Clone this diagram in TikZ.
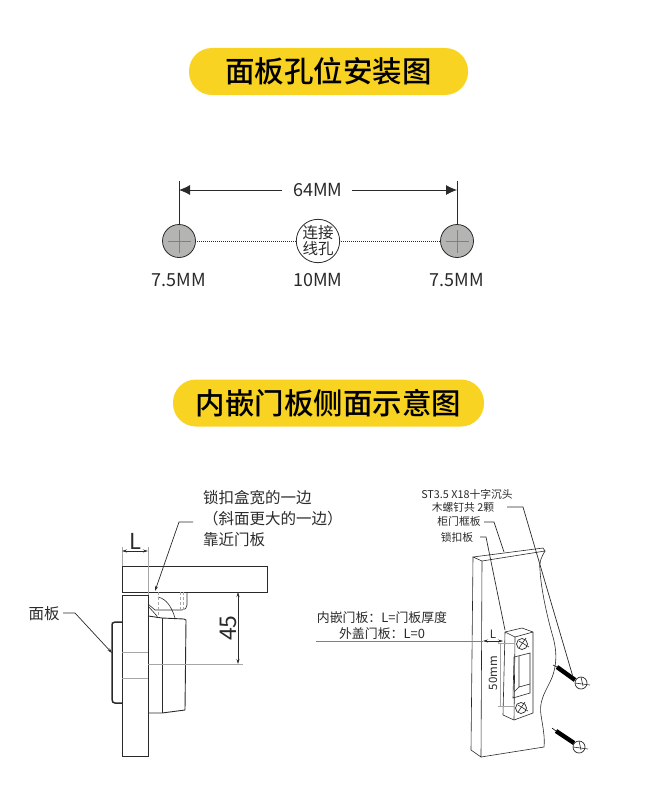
\documentclass[tikz,border=0pt]{standalone}
\usepackage{fontspec}
\setmainfont{Noto Sans CJK SC}
\newfontfamily\titlefont{Noto Sans CJK SC Medium}
\usetikzlibrary{calc,arrows.meta}
\definecolor{pillyellow}{HTML}{F9D322}
\definecolor{holegrey}{HTML}{B4B4B2}
\definecolor{inkdark}{HTML}{2A2A2A}
\tikzset{
  pill/.style={fill=pillyellow, rounded corners=23pt, minimum height=47pt, font=\titlefont\fontsize{29.5}{30}\selectfont, text=black},
  holelabel/.style={font=\fontsize{18}{18}\selectfont, text=inkdark},
  note/.style={font=\fontsize{15.5}{21}\selectfont, text=inkdark},
  smallnote/.style={font=\fontsize{10.8}{12}\selectfont, text=inkdark},
  part/.style={draw=inkdark, line width=0.9pt},
  thinpart/.style={draw=inkdark, line width=0.6pt},
  hairline/.style={draw=gray!70, line width=0.5pt},
  leader/.style={draw=inkdark, line width=0.7pt},
  dimarrow/.style={draw=inkdark, line width=0.7pt, {Stealth[length=5pt,width=3pt]}-{Stealth[length=5pt,width=3pt]}},
  screwhead/.style={draw=inkdark, fill=white, line width=0.7pt, circle, minimum size=12pt},
  screwhole/.style={draw=inkdark, line width=0.7pt, circle, minimum size=11pt}
}
\begin{document}
\begin{tikzpicture}[x=1pt,y=-1pt,inner sep=0pt,outer sep=0pt]
    \useasboundingbox (0,0) rectangle (657,800);

    % titles
    \node[pill, minimum width=279pt] (title_top) at (328.5,71.5) {面板孔位安装图};
    \node[pill, minimum width=311pt] (title_side) at (328.5,403) {内嵌门板侧面示意图};

    % holes
    \draw[densely dotted, line width=1pt, draw=inkdark] (179,241) -- (457,241);
    \node[draw=inkdark, fill=holegrey, circle, line width=0.8pt, minimum size=33pt] (hole_left) at (179,241) {};
    \node[draw=inkdark, fill=holegrey, circle, line width=0.8pt, minimum size=33pt] (hole_right) at (457,241) {};
    \node[draw=inkdark, fill=white, circle, line width=0.8pt, minimum size=43pt,
          align=center, font=\fontsize{15.5}{16}\selectfont, text=inkdark] (hole_mid) at (318,241) {连接\\线孔};
    \foreach \hole in {hole_left,hole_right}{
      \draw[gray, line width=0.7pt] ($(\hole.center)+(-11.5pt,0)$) -- ($(\hole.center)+(11.5pt,0)$);
      \draw[gray, line width=0.7pt] ($(\hole.center)+(0,-11.5pt)$) -- ($(\hole.center)+(0,11.5pt)$);
    }

    % 64 dimension
    \node[holelabel] (dim_64) at (318,190) {64MM};
    \coordinate (ext_left) at (179,181);
    \coordinate (ext_right) at (457,181);
    \coordinate (arrow_left) at (179,190);
    \coordinate (arrow_right) at (457,190);
    \coordinate (gap_left) at (282,190);
    \coordinate (gap_right) at (352,190);
    \draw[line width=0.8pt, draw=inkdark] (ext_left) -- (hole_left.north);
    \draw[line width=0.8pt, draw=inkdark] (ext_right) -- (hole_right.north);
    \draw[line width=0.8pt, draw=inkdark, -{Latex[length=11pt,width=10pt]}] (gap_left) -- (arrow_left);
    \draw[line width=0.8pt, draw=inkdark, -{Latex[length=11pt,width=10pt]}] (gap_right) -- (arrow_right);

    \node[holelabel] (size_left) at (179,280) {7.5MM};
    \node[holelabel] (size_mid) at (318,280) {10MM};
    \node[holelabel] (size_right) at (457,280) {7.5MM};

    % side view, door and panel
    \draw[part] (122,566) rectangle (267,592);
    \draw[part] (122,595) rectangle (148,756);
    \draw[part, line width=1.5pt] (122,622) -- (115,622) .. controls (112,622) and (112,624) .. (112,626)
        -- (112,699) .. controls (112,702) and (113,703) .. (115,703) -- (122,703);
    \draw[hairline] (122,652) -- (148,652);
    \draw[hairline] (122,678) -- (148,678);

    % side view, lock body
    \draw[part] (148,616) -- (162,618) -- (184,619) -- (186,620) -- (185,710) -- (162,713) -- (148,713);
    \draw[thinpart] (162,618) -- (162,713);
    \draw[thinpart] (187,592) -- (187,605) .. controls (187,608) and (185,610) .. (182,610) -- (155,610) -- (148,604);
    \draw[thinpart] (148,606) -- (157,616) -- (157,618);
    \draw[thinpart] (148,595) -- (148,606);
    \draw[thinpart] (158,597) .. controls (167,599) and (172,608) .. (175,618);
    \draw[hairline, densely dashed] (158,592) -- (158,617);
    \draw[hairline, densely dashed] (180,592) -- (180,610);
    \draw[hairline, densely dashed] (183,592) -- (183,610);

    % side view, L dimension
    \node[font=\fontsize{22}{22}\selectfont, text=inkdark] (dim_l) at (135,541) {L};
    \coordinate (ext_l_a) at (122,547);
    \coordinate (ext_l_b) at (148,547);
    \coordinate (ext_l_a_end) at (122,566);
    \coordinate (ext_l_b_end) at (148,595);
    \draw[hairline] (ext_l_a) -- (ext_l_a_end);
    \draw[hairline] (ext_l_b) -- (ext_l_b_end);
    \coordinate (arrow_l_a) at (122,551);
    \coordinate (arrow_l_b) at (148,551);
    \draw[dimarrow] (arrow_l_a) -- (arrow_l_b);

    % side view, 45 dimension
    \node[font=\fontsize{23}{23}\selectfont, text=inkdark, rotate=90] (dim_45) at (228,628) {45};
    \coordinate (arrow_45_a) at (238,592);
    \coordinate (arrow_45_b) at (238,664);
    \draw[dimarrow] (arrow_45_a) -- (arrow_45_b);
    \coordinate (ext_45_a) at (148,664);
    \coordinate (ext_45_b) at (243,664);
    \draw[hairline] (ext_45_a) -- (ext_45_b);

    % side view, labels
    \node[note, anchor=north west, align=left] (note_edge) at (203,490) {锁扣盒宽的一边\\（斜面更大的一边）\\靠近门板};
    \coordinate (note_edge_a) at (193,522);
    \coordinate (note_edge_b) at (179,522);
    \coordinate (note_edge_c) at (155,591);
    \draw[leader, -{Stealth[length=5pt,width=3pt]}] (note_edge_a) -- (note_edge_b) -- (note_edge_c);
    \node[note] (note_panel) at (44,614) {面板};
    \coordinate (note_panel_a) at (63,613);
    \coordinate (note_panel_b) at (75,613);
    \coordinate (note_panel_c) at (112,653);
    \draw[leader, -{Stealth[length=5pt,width=3pt]}] (note_panel_a) -- (note_panel_b) -- (note_panel_c);

    % frame board
    \draw[thinpart] (473,557) -- (543,548) -- (545,551) -- (482,561) -- cycle;
    \draw[thinpart] (473,557) -- (471,750) -- (481,757) -- (482,561);
    \draw[thinpart] (481,757) -- (544,747);
    \draw[thinpart] (545,551) .. controls (541,558) and (539,562) .. (540,570)
        .. controls (541,590) and (548,620) .. (553,637)
        .. controls (558,655) and (556,670) .. (550,682)
        .. controls (544,694) and (539,702) .. (541,715)
        .. controls (543,728) and (545,737) .. (544,747);

    % lock plate
    \draw[thinpart, fill=white] (505,632) -- (522,628) -- (533,632) -- (533,713) -- (514,720) -- (503,715) -- cycle;
    \draw[thinpart] (505,632) -- (515,637) -- (533,632);
    \draw[thinpart] (515,637) -- (514,720);
    \draw[thinpart] (514,657) -- (530,653) -- (530,693) -- (513,698) -- cycle;
    \draw[thinpart] (519,656) -- (519,687) -- (530,684);
    \draw[thinpart] (514,692) -- (519,687);
    \node[screwhole] (plate_screw_a) at (522,644) {};
    \node[screwhole] (plate_screw_b) at (521,708) {};
    \draw[thinpart] ($(plate_screw_a.center)+(-3pt,3pt)$) -- ($(plate_screw_a.center)+(7pt,-3pt)$);
    \draw[thinpart] ($(plate_screw_a.center)+(-3pt,-4pt)$) -- ($(plate_screw_a.center)+(4pt,6pt)$);
    \draw[thinpart] ($(plate_screw_b.center)+(-3pt,3pt)$) -- ($(plate_screw_b.center)+(7pt,-3pt)$);
    \draw[thinpart] ($(plate_screw_b.center)+(-3pt,-4pt)$) -- ($(plate_screw_b.center)+(4pt,6pt)$);

    % loose screws
    \foreach \name/\tipx/\tipy/\shaftx/\shafty/\endx/\endy/\headx/\heady in
      {screw_a/553/665/557/667/575/680/581/683, screw_b/552/728/556/731/574/743/579/747}{
      \node[screwhead] (\name) at (\headx,\heady) {};
      \coordinate (\name_tip) at (\tipx,\tipy);
      \coordinate (\name_shaft) at (\shaftx,\shafty);
      \coordinate (\name_end) at (\endx,\endy);
      \draw[line width=0.6pt, draw=black] (\name_tip) -- (\name_shaft);
      \draw[line width=4.4pt, draw=black] (\name_shaft) -- (\name_end);
      \draw[thinpart] (\name.west) -- ($(\name.east)+(3pt,-2pt)$);
      \draw[thinpart] (\name.north) -- ($(\name.south)+(2pt,3pt)$);
    }

    % right labels
    \node[smallnote] (note_screw_a) at (467,494) {ST3.5 X18十字沉头};
    \node[smallnote] (note_screw_b) at (463,507.5) {木螺钉共 2颗};
    \node[smallnote] (note_frame) at (459,521.5) {柜门框板};
    \node[smallnote] (note_plate) at (457,537) {锁扣板};
    \coordinate (note_screw_c) at (507,507);
    \coordinate (note_screw_d) at (523,507);
    \coordinate (note_screw_e) at (573,677);
    \draw[leader] (note_screw_c) -- (note_screw_d) -- (note_screw_e);
    \coordinate (note_frame_a) at (484,522);
    \coordinate (note_frame_b) at (494,522);
    \coordinate (note_frame_c) at (504,552);
    \draw[leader] (note_frame_a) -- (note_frame_b) -- (note_frame_c);
    \coordinate (note_plate_a) at (480,537);
    \coordinate (note_plate_b) at (486,537);
    \coordinate (note_plate_c) at (505,630);
    \draw[leader] (note_plate_a) -- (note_plate_b) -- (note_plate_c);

    % thickness note
    \node[smallnote, font=\fontsize{12.9}{14}\selectfont] (note_inset) at (382,618) {内嵌门板：L=门板厚度};
    \node[smallnote, font=\fontsize{12.9}{14}\selectfont] (note_cover) at (382,634) {外盖门板：L=0};
    \coordinate (line_l_a) at (316,641);
    \coordinate (line_l_b) at (483,641);
    \coordinate (line_l_c) at (503,641);
    \draw[leader, draw=gray] (line_l_a) -- (line_l_b);
    \draw[dimarrow, line width=0.5pt] (line_l_b) -- (line_l_c);
    \node[font=\fontsize{11.5}{12}\selectfont, text=inkdark] (dim_l_plate) at (493,634) {L};

    % 50mm dimension
    \node[font=\fontsize{11.5}{12}\selectfont, text=inkdark, rotate=90] (dim_50) at (493,673) {50mm};
    \coordinate (ext_50_a) at (498,643);
    \coordinate (ext_50_b) at (515,643);
    \coordinate (ext_50_c) at (498,706);
    \coordinate (ext_50_d) at (515,706);
    \coordinate (line_50_a) at (500,643);
    \coordinate (line_50_b) at (500,706);
    \draw[hairline] (ext_50_a) -- (ext_50_b);
    \draw[hairline] (ext_50_c) -- (ext_50_d);
    \draw[hairline] (line_50_a) -- (line_50_b);
\end{tikzpicture}
\end{document}
